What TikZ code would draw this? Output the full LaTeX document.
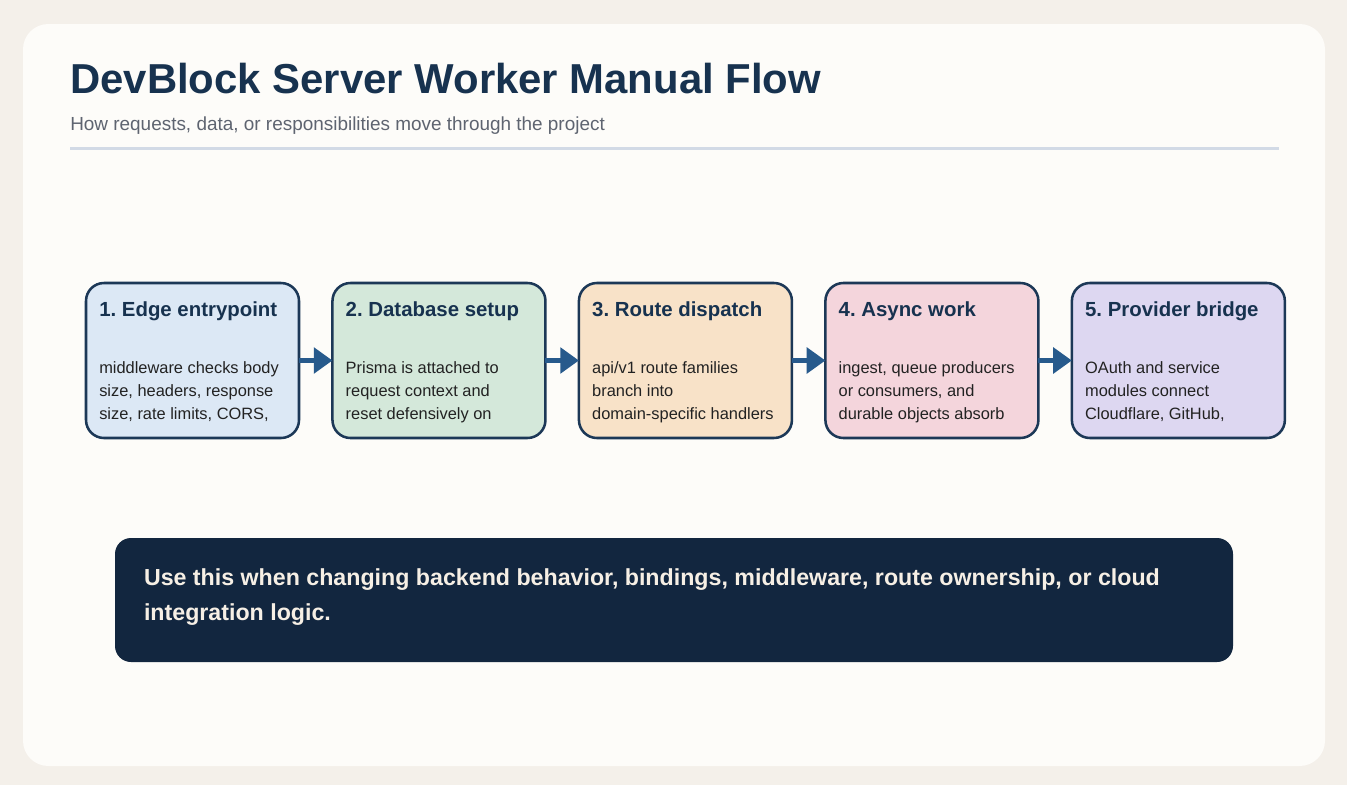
\documentclass[tikz,border=0pt]{standalone}
\usepackage{fontspec}
\setmainfont{Liberation Sans}
\usetikzlibrary{arrows.meta, positioning}
\frenchspacing

\definecolor{fundo}{HTML}{F4F0EA}
\definecolor{cartao}{HTML}{FDFCF9}
\definecolor{marinho}{HTML}{17324F}
\definecolor{cinza}{HTML}{5E6470}
\definecolor{regua}{HTML}{D2DAE6}
\definecolor{borda}{HTML}{1C3857}
\definecolor{seta}{HTML}{275A8C}
\definecolor{nota}{HTML}{12263F}
\definecolor{notatexto}{HTML}{F6EFE5}
\definecolor{texto}{HTML}{222222}
\definecolor{azulclaro}{HTML}{DCE8F5}
\definecolor{verdeclaro}{HTML}{D4E8DA}
\definecolor{pessego}{HTML}{F8E2C8}
\definecolor{rosa}{HTML}{F4D5DC}
\definecolor{lilas}{HTML}{DDD7F1}

\tikzset{
  caixa/.style={draw=borda, line width=1.9pt, rounded corners=13.5pt,
    minimum width=159.75pt, minimum height=116.25pt, inner sep=0pt, outer sep=0pt},
  titcaixa/.style={inner sep=0pt, anchor=base west, text=marinho,
    font=\fontsize{15.3}{18}\selectfont\bfseries},
  corpo/.style={inner sep=0pt, anchor=north west, text=texto, align=left,
    font=\fontsize{12.3}{17.25}\selectfont},
  fluxo/.style={seta, line width=3.75pt, -{Triangle[length=14pt, width=19pt]}},
}

\newcommand{\etapa}[5]{%
  % #1 = nome, #2 = posição, #3 = cor, #4 = título, #5 = texto
  \node[caixa, fill=#3, #2] (#1) {};
  \node[titcaixa] (#1t) at ([xshift=9.75pt, yshift=-25.3pt]#1.north west) {#4};
  \node[corpo] (#1c) at ([xshift=9.75pt, yshift=-58.5pt]#1.north west) {#5};
}

\begin{document}
\begin{tikzpicture}[x=0.75pt, y=-0.75pt, >=latex]
    % fundo
    \fill[fundo] (0,0) rectangle (1347,785);
    \useasboundingbox (0,0) rectangle (1347,785);
    \fill[cartao, rounded corners=19pt] (23,24) rectangle (1325,766);

    % título
    \node[anchor=base west, inner sep=0pt, text=marinho,
      font=\fontsize{31.4}{36}\selectfont\bfseries] (titulo) at (70,93.3)
      {DevBlock Server Worker Manual Flow};
    \node[anchor=base west, inner sep=0pt, text=cinza,
      font=\fontsize{14.2}{17}\selectfont] (subtitulo) at (70,130)
      {How requests, data, or responsibilities move through the project};
    \draw[regua, line width=2.25pt] (70,148) -- (1279,148);

    % caixas
    \pgfmathsetmacro{\gap}{25.1}
    \etapa{e1}{at={(192.5,360.5)}}{azulclaro}{1. Edge entrypoint}
      {middleware checks body\\size, headers, response\\size, rate limits, CORS,}
    \etapa{e2}{right=\gap pt of e1}{verdeclaro}{2. Database setup}
      {Prisma is attached to\\request context and\\reset defensively on}
    \etapa{e3}{right=\gap pt of e2}{pessego}{3. Route dispatch}
      {api/v1 route families\\branch into\\domain-specific handlers}
    \etapa{e4}{right=\gap pt of e3}{rosa}{4. Async work}
      {ingest, queue producers\\or consumers, and\\durable objects absorb}
    \etapa{e5}{right=\gap pt of e4}{lilas}{5. Provider bridge}
      {OAuth and service\\modules connect\\Cloudflare, GitHub,}

    % setas
    \foreach \a/\b in {e1/e2, e2/e3, e3/e4, e4/e5}
      \draw[fluxo] (\a.east) -- (\b.west);

    % nota
    \node[fill=nota, rounded corners=12pt, minimum width=838.5pt,
      minimum height=93pt, inner sep=0pt] (obs) at (674,600) {};
    \node[anchor=north west, inner sep=0pt, text=notatexto, align=left,
      font=\fontsize{17.4}{26.25}\selectfont\bfseries] (obstexto)
      at ([xshift=21.75pt, yshift=-23.3pt]obs.north west)
      {Use this when changing backend behavior, bindings, middleware, route ownership, or cloud\\integration logic.};
\end{tikzpicture}
\end{document}
